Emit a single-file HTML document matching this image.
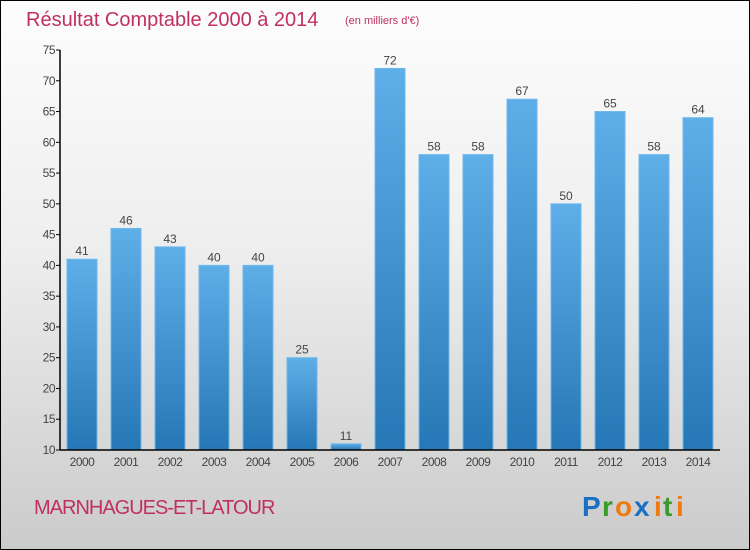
<!DOCTYPE html>
<html><head><meta charset="utf-8"><style>
html,body{margin:0;padding:0}
body{width:750px;height:550px;overflow:hidden;font-family:"Liberation Sans",sans-serif}
#wrap{position:absolute;left:0;top:0;width:748px;height:548px;border:1px solid #000;background:linear-gradient(#fdfdfd 0%,#eeeeee 45%,#cbcbcb 100%)}
</style></head><body>
<div id="wrap">
<svg id="chart" width="750" height="550" style="position:absolute;left:-1px;top:-1px">
<defs><linearGradient id="bg" x1="0" y1="0" x2="0" y2="1"><stop offset="0" stop-color="#5eaee8"/><stop offset="1" stop-color="#2677b5"/></linearGradient></defs>
<text x="26" y="26" font-size="20" fill="#c0305e">Résultat Comptable 2000 à 2014</text>
<text x="345" y="24" font-size="11" fill="#c0305e">(en milliers d'€)</text>
<text x="34" y="514" font-size="20" fill="#c0305e" letter-spacing="-1">MARNHAGUES-ET-LATOUR</text>
<g font-size="28" font-weight="bold">
<text x="582" y="516" fill="#1a6fc4">P</text><text x="602" y="516" fill="#3a9a2a">r</text><text x="615" y="516" fill="#f07a10">o</text><text x="634" y="516" fill="#1a6fc4">x</text><text x="654" y="516" fill="#f07a10">i</text><text x="663" y="516" fill="#3a9a2a">t</text><text x="676" y="516" fill="#f07a10">i</text>
</g>
<g id="plot"></g>
</svg>
</div>
<script>
const categories=["2000","2001","2002","2003","2004","2005","2006","2007","2008","2009","2010","2011","2012","2013","2014"];
const values=[41,46,43,40,40,25,11,72,58,58,67,50,65,58,64];
const yTicks=[10,15,20,25,30,35,40,45,50,55,60,65,70,75];
(function(){
const yMin=10,yMax=75,plotTop=50,plotBottom=450,plotLeft=60,plotRight=720;
const y=v=>plotBottom-(v-yMin)*(plotBottom-plotTop)/(yMax-yMin);
const x=i=>82+i*44;
const NS="http://www.w3.org/2000/svg";
const g=document.getElementById('plot');
function mk(t,a,txt){const e=document.createElementNS(NS,t);for(const k in a)e.setAttribute(k,a[k]);if(txt!=null)e.textContent=txt;g.appendChild(e);return e;}
values.forEach((v,i)=>{
 const r=mk('rect',{x:x(i)-15,y:y(v),width:30,height:plotBottom-y(v),fill:'url(#bg)',stroke:'#6cb8ee','stroke-width':1});
 
 
 const t=mk('text',{x:x(i),y:y(v)-4,'font-size':12,fill:'#444','text-anchor':'middle'},String(v));
 
 
 const c=mk('text',{x:x(i),y:plotBottom+16,'font-size':12,fill:'#444','text-anchor':'middle','letter-spacing':'-0.5'},categories[i]);
 
 
});
yTicks.forEach(v=>{
 const l=mk('line',{x1:plotLeft-4,x2:plotLeft,y1:y(v),y2:y(v),stroke:'#000'});
 
 
 const t=mk('text',{x:plotLeft-5,y:y(v)+4,'font-size':12,fill:'#444','text-anchor':'end','letter-spacing':'-0.5'},String(v));
 
 
});
const ya=mk('line',{x1:plotLeft,x2:plotLeft,y1:plotTop,y2:plotBottom,stroke:'#000','stroke-width':1.5});


const xa=mk('line',{x1:plotLeft,x2:plotRight,y1:plotBottom,y2:plotBottom,stroke:'#000','stroke-width':1.5});


})();
</script>
</body></html>
